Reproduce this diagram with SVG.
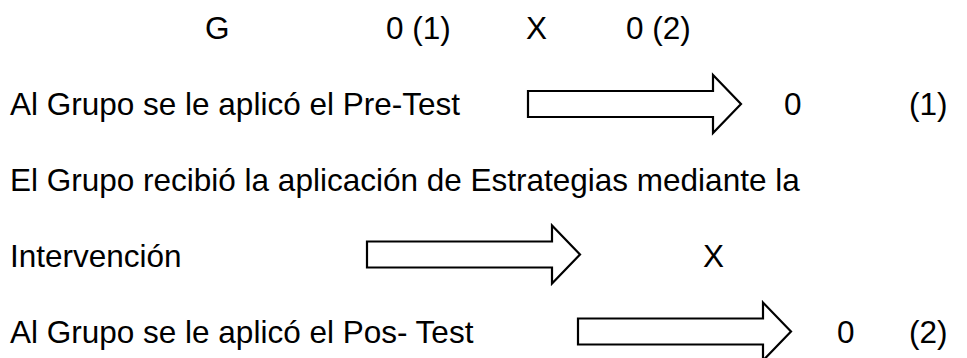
<svg xmlns="http://www.w3.org/2000/svg" width="967" height="358" viewBox="0 0 967 358">
<style>
text{font-family:"Liberation Sans",Arial,sans-serif;font-size:31.5px;fill:#000}
.arr{fill:#fff;stroke:#000;stroke-width:2.2;stroke-linejoin:miter}
</style>
<defs>
<path id="block" class="arr" d="M0,-13 H185 V-29 L213,0 L185,29 V13 H0 Z"/>
</defs>
<rect width="967" height="358" fill="#fff"/>
<g id="header">
<text x="205" y="39">G</text>
<text x="386" y="39">0 (1)</text>
<text x="526" y="39">X</text>
<text x="626" y="39">0 (2)</text>
</g>
<g id="row1">
<text x="10" y="115">Al Grupo se le aplicó el Pre-Test</text>
<text x="784" y="115">0</text>
<text x="909" y="115">(1)</text>
</g>
<g id="row2">
<text x="10" y="191">El Grupo recibió la aplicación de Estrategias mediante la</text>
</g>
<g id="row3">
<text x="10" y="267">Intervención</text>
<text x="703" y="267">X</text>
</g>
<g id="row4">
<text x="10" y="343">Al Grupo se le aplicó el Pos- Test</text>
<text x="837" y="343">0</text>
<text x="909" y="343">(2)</text>
</g>
<g id="connectors">
<use href="#block" transform="translate(528,104)"/>
<use href="#block" transform="translate(367,254.5)"/>
<use href="#block" transform="translate(578,331.5)"/>
</g>
</svg>
